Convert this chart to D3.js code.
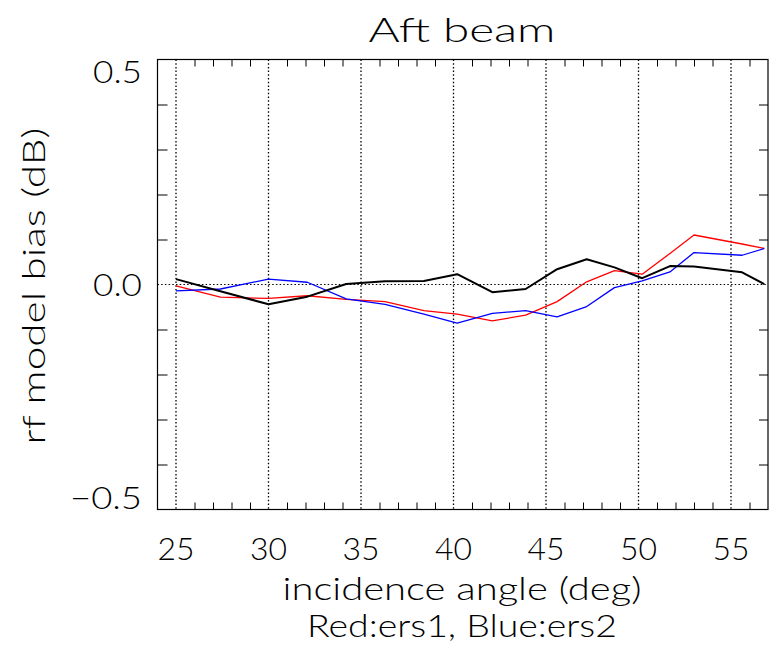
<!DOCTYPE html>
<html>
<head>
<meta charset="utf-8">
<script src="https://cdn.jsdelivr.net/npm/d3@7"></script>
<style>
  html, body { margin: 0; padding: 0; background: #fff; }
  svg text { font-family: "Lato", "DejaVu Sans", sans-serif; font-weight: 300; fill: #000; }
</style>
</head>
<body>
<svg id="chart" width="769" height="645"></svg>
<script>
// Incidence angles (deg) of the aft-beam nodes
const angles = [25.0, 27.4, 30.0, 32.1, 34.2, 36.3, 38.4, 40.2, 42.1, 43.9, 45.6, 47.2, 48.7, 50.2, 51.7, 53.0, 55.6, 56.8];

// rf model bias (dB) per instrument
const biasCombined = [0.012, -0.015, -0.044, -0.027, 0.001, 0.007, 0.008, 0.023, -0.017, -0.010, 0.034, 0.056, 0.038, 0.014, 0.041, 0.040, 0.027, 0.001];
const biasErs1 = [-0.003, -0.028, -0.031, -0.025, -0.033, -0.038, -0.058, -0.066, -0.081, -0.068, -0.038, 0.006, 0.031, 0.023, 0.069, 0.110, 0.090, 0.080];
const biasErs2 = [-0.014, -0.010, 0.012, 0.005, -0.032, -0.044, -0.066, -0.086, -0.064, -0.058, -0.072, -0.049, -0.007, 0.008, 0.028, 0.071, 0.065, 0.080];

// Axis ticks
const xMajorTicks = [25, 30, 35, 40, 45, 50, 55];
const xMinorTicks = d3.range(25, 57, 1);
const yMajorTicks = [-0.5, 0.0, 0.5];
const yMinorTicks = [-0.4, -0.3, -0.2, -0.1, 0.1, 0.2, 0.3, 0.4];
const yTickLabels = ["\u22120.5", "0.0", "0.5"];

const svg = d3.select("#chart");
const plotLeft = 157.5, plotRight = 768, plotTop = 59.5, plotBottom = 509.5;

const x = d3.scaleLinear().domain([24, 57]).range([plotLeft, plotRight]);
const y = d3.scaleLinear().domain([-0.5, 0.5]).range([plotBottom, plotTop]);

const dotted = "1.5,2.2";

// dotted vertical grid at the major angles
svg.append("g").selectAll("line").data(xMajorTicks).join("line")
  .attr("x1", d => x(d)).attr("x2", d => x(d))
  .attr("y1", plotTop).attr("y2", plotBottom)
  .attr("stroke", "#000").attr("stroke-width", 1.3)
  .attr("stroke-dasharray", dotted);

// dotted zero line
svg.append("line")
  .attr("x1", plotLeft).attr("x2", plotRight)
  .attr("y1", y(0)).attr("y2", y(0))
  .attr("stroke", "#000").attr("stroke-width", 1.2)
  .attr("stroke-dasharray", dotted);

// Minor ticks on bottom/top and left/right (pointing inward)
const xMinorOnly = xMinorTicks.filter(t => !xMajorTicks.includes(t));
const xAxisBottom = d3.axisBottom(x).tickValues(xMinorOnly).tickSize(-7).tickFormat("");
const xAxisTop = d3.axisTop(x).tickValues(xMinorOnly).tickSize(-7).tickFormat("");
const yAxisLeft = d3.axisLeft(y).tickValues(yMinorTicks).tickSize(-10).tickFormat("");
const yAxisRight = d3.axisRight(y).tickValues(yMinorTicks).tickSize(-9).tickFormat("");

function styleAxis(g) {
  g.select(".domain").remove();
  g.selectAll("line").attr("stroke", "#000").attr("stroke-width", 1);
}
svg.append("g").attr("transform", `translate(0,${plotBottom})`).call(xAxisBottom).call(styleAxis);
svg.append("g").attr("transform", `translate(0,${plotTop})`).call(xAxisTop).call(styleAxis);
svg.append("g").attr("transform", `translate(${plotLeft},0)`).call(yAxisLeft).call(styleAxis);
svg.append("g").attr("transform", `translate(${plotRight},0)`).call(yAxisRight).call(styleAxis);

// frame
svg.append("rect")
  .attr("x", plotLeft).attr("y", plotTop)
  .attr("width", plotRight - plotLeft).attr("height", plotBottom - plotTop)
  .attr("fill", "none").attr("stroke", "#000").attr("stroke-width", 1.2);

// tick labels
svg.append("g").selectAll("text").data(xMajorTicks).join("text")
  .attr("x", d => x(d)).attr("y", 560)
  .attr("text-anchor", "middle")
  .attr("font-size", 31)
  .attr("textLength", 37).attr("lengthAdjust", "spacingAndGlyphs")
  .text(d => d);

// end labels sit just inside the frame
const yLabelCenter = d => d === 0.5 ? y(d) + 12 : d === -0.5 ? y(d) - 12 : y(d);
svg.append("g").selectAll("text").data(yMajorTicks).join("text")
  .attr("x", 142).attr("y", d => yLabelCenter(d) + 11)
  .attr("text-anchor", "end")
  .attr("font-size", 31)
  .attr("textLength", d => d < 0 ? 72 : 49).attr("lengthAdjust", "spacingAndGlyphs")
  .text((d, i) => yTickLabels[i]);

// series
const line = vals => d3.line()
  .x((d, i) => x(angles[i]))
  .y(d => y(d))(vals);

const series = [
  { vals: biasErs1, color: "#ff0000", width: 1.3 },
  { vals: biasErs2, color: "#0000ff", width: 1.3 },
  { vals: biasCombined, color: "#000000", width: 2 }
];
svg.append("g").selectAll("path").data(series).join("path")
  .attr("d", d => line(d.vals))
  .attr("fill", "none")
  .attr("stroke", d => d.color)
  .attr("stroke-width", d => d.width)
  .attr("stroke-linejoin", "round");

// titles
svg.append("text")
  .attr("x", 462).attr("y", 42)
  .attr("text-anchor", "middle")
  .attr("font-size", 33)
  .attr("textLength", 187).attr("lengthAdjust", "spacingAndGlyphs")
  .text("Aft beam");

svg.append("text")
  .attr("x", 462).attr("y", 600)
  .attr("text-anchor", "middle")
  .attr("font-size", 31)
  .attr("textLength", 359).attr("lengthAdjust", "spacingAndGlyphs")
  .text("incidence angle (deg)");

svg.append("text")
  .attr("x", 462).attr("y", 637)
  .attr("text-anchor", "middle")
  .attr("font-size", 31)
  .attr("textLength", 310).attr("lengthAdjust", "spacingAndGlyphs")
  .text("Red:ers1, Blue:ers2");

svg.append("text")
  .attr("transform", "translate(45,286) rotate(-90)")
  .attr("text-anchor", "middle")
  .attr("font-size", 31)
  .attr("textLength", 317).attr("lengthAdjust", "spacingAndGlyphs")
  .text("rf model bias (dB)");
</script>
</body>
</html>
